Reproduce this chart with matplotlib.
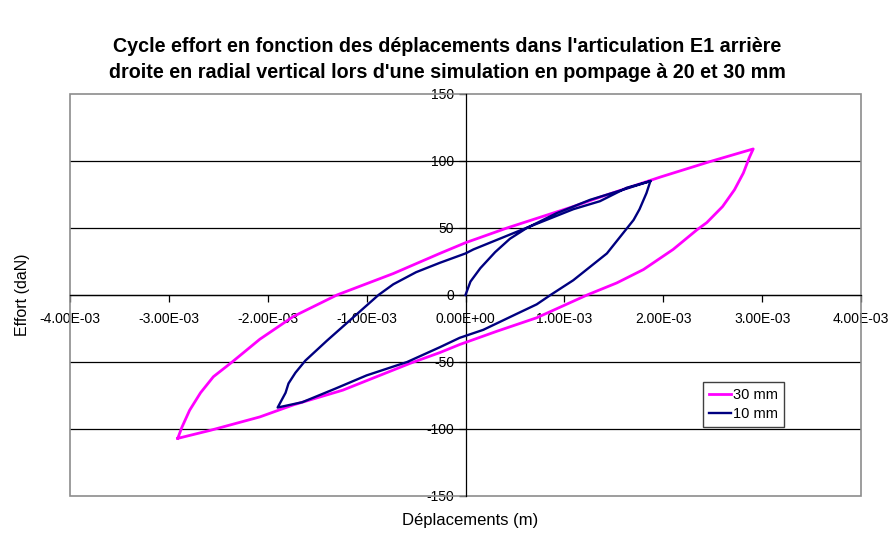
import numpy as np
import matplotlib
matplotlib.use('Agg')
from matplotlib import pyplot as plt
from matplotlib.patches import Rectangle

plt.rcParams['font.family'] = ['Liberation Sans', 'DejaVu Sans']

title_lines = ["Cycle effort en fonction des déplacements dans l'articulation E1 arrière",
               "droite en radial vertical lors d'une simulation en pompage à 20 et 30 mm"]
x_label = 'Déplacements (m)'
y_label = 'Effort (daN)'

# 30 mm cycle: displacement (x 1e-3 m) and force (daN)
dep_30 = [-2.91, -2.87, -2.79, -2.68, -2.55, -2.36, -2.08, -1.74, -1.30, -0.73,
          -0.26, 0.00, 0.42, 1.09, 1.36, 1.97, 2.47, 2.91,
          2.87, 2.81, 2.72, 2.60, 2.44, 2.34, 2.10, 1.80, 1.53, 1.23, 0.72,
          0.32, -0.06, -0.26, -0.56, -1.24, -1.74, -2.08, -2.58, -2.91]
eff_30 = [-107, -99, -86, -73, -61, -50, -33, -16, 0, 16,
          31, 39, 50, 66, 73, 88, 99.5, 109,
          102.5, 91, 78.5, 66, 54, 48.6, 34, 19, 9, 0, -17,
          -27, -37, -43, -51, -71, -82, -91, -101, -107]

# 10 mm cycle, starting from rest
dep_10 = [0.00, 0.05, 0.15, 0.30, 0.45, 0.62, 0.92, 1.26, 1.59, 1.87,
          1.83, 1.76, 1.70, 1.43, 1.09, 0.86, 0.72, 0.52, 0.35, 0.18,
          -0.06, -0.26, -0.59, -1.00, -1.32, -1.65, -1.90,
          -1.82, -1.79, -1.72, -1.62, -1.40, -1.14, -0.88, -0.73, -0.50,
          -0.26, 0.00, 0.08, 0.58, 1.09, 1.36, 1.63, 1.87]
eff_10 = [0, 10, 20, 32, 42, 50, 61, 71, 78.5, 85,
          76, 64, 56, 31, 11, 0, -7, -14, -20, -26,
          -32, -39, -50, -60, -70, -80, -84,
          -73, -66, -58, -49, -34, -17, 0, 8, 17,
          24, 31, 34, 49, 64, 70, 80, 85]

series_labels = ['30 mm', '10 mm']
series_colors = ['#FF00FF', '#000080']

x_ticks = np.arange(-4, 5) * 1e-3
y_ticks = np.arange(-150, 151, 50)

fig = plt.figure(figsize=(8.94, 5.34), dpi=100)
ax = fig.add_axes([0.0783, 0.0712, 0.8848, 0.7528])

ax.plot(np.array(dep_30) * 1e-3, eff_30, color=series_colors[0], lw=2.0,
        label=series_labels[0], zorder=3)
ax.plot(np.array(dep_10) * 1e-3, eff_10, color=series_colors[1], lw=1.7,
        label=series_labels[1], zorder=4)

ax.set_xlim(-4e-3, 4e-3)
ax.set_ylim(-150, 150)

# horizontal gridlines
for y in y_ticks[1:-1]:
    ax.axhline(y, color='black', lw=0.9, zorder=1)

# axes crossing at the origin
ax.spines['left'].set_position(('data', 0))
ax.spines['bottom'].set_position(('data', 0))
ax.spines['top'].set_visible(False)
ax.spines['right'].set_visible(False)
for s in ('left', 'bottom'):
    ax.spines[s].set_color('#000000')
    ax.spines[s].set_linewidth(0.9)
    ax.spines[s].set_zorder(2)

ax.add_patch(Rectangle((0, 0), 1, 1, transform=ax.transAxes, fill=False,
                       edgecolor='#8c8c8c', lw=1.2, zorder=2, clip_on=False))

ax.set_xticks(x_ticks)
ax.set_xticklabels(['%.2E' % v for v in x_ticks])
ax.set_yticks(y_ticks)
ax.set_yticklabels([str(v) for v in y_ticks])
ax.tick_params(axis='x', direction='out', length=5, width=0.9, pad=7,
               labelsize=10, colors='black')
ax.tick_params(axis='y', direction='out', length=5, width=0.9, pad=3,
               labelsize=10, colors='black')

leg = ax.legend(loc='upper left', bbox_to_anchor=(0.800, 0.284),
                borderaxespad=0, fancybox=False, framealpha=1,
                edgecolor='#404040', fontsize=10.5, handlelength=1.5,
                handletextpad=0.2, borderpad=0.4, labelspacing=0.35)
leg.get_frame().set_linewidth(1.0)

fig.text(0.5, 1 - 47 / 534, title_lines[0], ha='center', va='center',
         fontsize=14.2, fontweight='bold')
fig.text(0.5, 1 - 72 / 534, title_lines[1], ha='center', va='center',
         fontsize=14.2, fontweight='bold')
fig.text(0.526, 1 - 521 / 534, x_label, ha='center', va='center', fontsize=12)
fig.text(0.025, 0.4476, y_label, ha='center', va='center', fontsize=11.5,
         rotation=90)

fig.savefig('out.png', dpi=100)
